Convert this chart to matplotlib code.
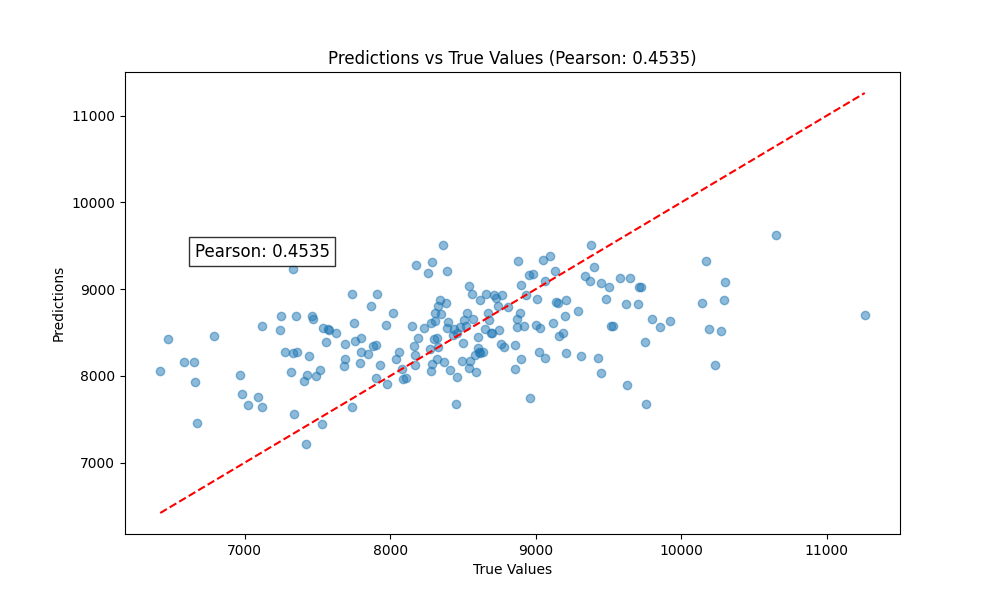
import matplotlib
matplotlib.use("Agg")
import matplotlib.pyplot as plt
import numpy as np

# values
true_values = [6420, 6470, 6580, 6650, 6660, 6670, 6790, 6970, 6980, 7020, 7090, 7120, 7120, 7240, 7250, 7280,
               7320, 7330, 7330, 7340, 7350, 7360, 7410, 7420, 7430, 7440, 7460, 7470, 7490, 7520, 7530, 7540,
               7560, 7570, 7580, 7630, 7680, 7690, 7690, 7740, 7740, 7750, 7760, 7790, 7800, 7800, 7850, 7870,
               7880, 7900, 7900, 7910, 7930, 7970, 7980, 8020, 8040, 8060, 8080, 8090, 8110, 8150, 8160, 8170,
               8170, 8180, 8190, 8230, 8260, 8270, 8280, 8280, 8290, 8290, 8300, 8310, 8310, 8320, 8320, 8330,
               8330, 8340, 8350, 8360, 8370, 8380, 8390, 8390, 8400, 8410, 8430, 8440, 8450, 8460, 8460, 8480,
               8490, 8500, 8510, 8520, 8530, 8540, 8540, 8550, 8560, 8570, 8580, 8590, 8600, 8600, 8610, 8620,
               8620, 8640, 8650, 8660, 8670, 8680, 8690, 8700, 8710, 8730, 8740, 8750, 8760, 8770, 8780, 8810,
               8860, 8860, 8870, 8870, 8880, 8890, 8900, 8900, 8920, 8930, 8950, 8960, 8980, 9000, 9010, 9020,
               9030, 9050, 9060, 9060, 9100, 9120, 9130, 9140, 9150, 9160, 9190, 9200, 9210, 9210, 9290, 9310,
               9340, 9370, 9380, 9400, 9430, 9450, 9450, 9480, 9500, 9520, 9530, 9580, 9620, 9630, 9650, 9700,
               9710, 9720, 9750, 9760, 9800, 9850, 9920, 10140, 10170, 10190, 10230, 10270, 10290, 10300, 10650,
               11260]
predictions = [8060, 8430, 8160, 8160, 7930, 7460, 8460, 8010, 7790, 7670, 7760, 7640, 8570, 8530, 8690, 8280,
               8050, 9230, 8260, 7560, 8690, 8270, 7940, 7210, 8010, 8230, 8690, 8660, 8000, 8070, 7450, 8550,
               8390, 8540, 8530, 8490, 8110, 8370, 8200, 8940, 7640, 8610, 8400, 8150, 8270, 8440, 8250, 8800,
               8350, 8360, 7970, 8940, 8120, 8590, 7910, 8730, 8190, 8270, 8080, 7960, 7970, 8580, 8350, 8240,
               8120, 9280, 8440, 8550, 9190, 8310, 8610, 8060, 8140, 9310, 8420, 8720, 8630, 8200, 8440, 8330,
               8800, 8880, 8710, 9510, 8160, 8840, 8550, 9210, 8620, 8070, 8470, 8540, 7680, 7990, 8500, 8560,
               8170, 8380, 8640, 8580, 8720, 9040, 8090, 8170, 8940, 8660, 8240, 8050, 8320, 8450, 8280, 8870,
               8260, 8270, 8540, 8940, 8730, 8640, 8500, 8500, 8930, 8900, 8810, 8530, 8370, 8930, 8330, 8790,
               8080, 8360, 8660, 8560, 9320, 8730, 9050, 8200, 8570, 8930, 9160, 7750, 9170, 8590, 8890, 8280,
               8550, 9340, 9090, 8210, 9380, 8610, 9210, 8850, 8840, 8460, 8500, 8690, 8880, 8260, 8750, 8230,
               9150, 9090, 9510, 9250, 8210, 8030, 9070, 8890, 9020, 8570, 8570, 9130, 8830, 7890, 9130, 8830,
               9030, 9020, 8390, 7680, 8650, 8560, 8630, 8840, 9320, 8540, 8130, 8520, 8870, 9080, 9620,
               8700]
pearson = 0.4535

fig, ax = plt.subplots(figsize=(10, 6), dpi=100)
ax.scatter(true_values, predictions, alpha=0.5)
lo, hi = min(true_values), max(true_values)
ax.plot([lo, hi], [lo, hi], 'r--', lw=1.5)
ax.set_xlabel("True Values")
ax.set_ylabel("Predictions")
ax.set_title(f"Predictions vs True Values (Pearson: {pearson:.4f})")
ax.text(0.09, 0.6, f"Pearson: {pearson:.4f}", transform=ax.transAxes, fontsize=12,
        bbox=dict(facecolor='white', alpha=0.8))
fig.savefig("out.png")
